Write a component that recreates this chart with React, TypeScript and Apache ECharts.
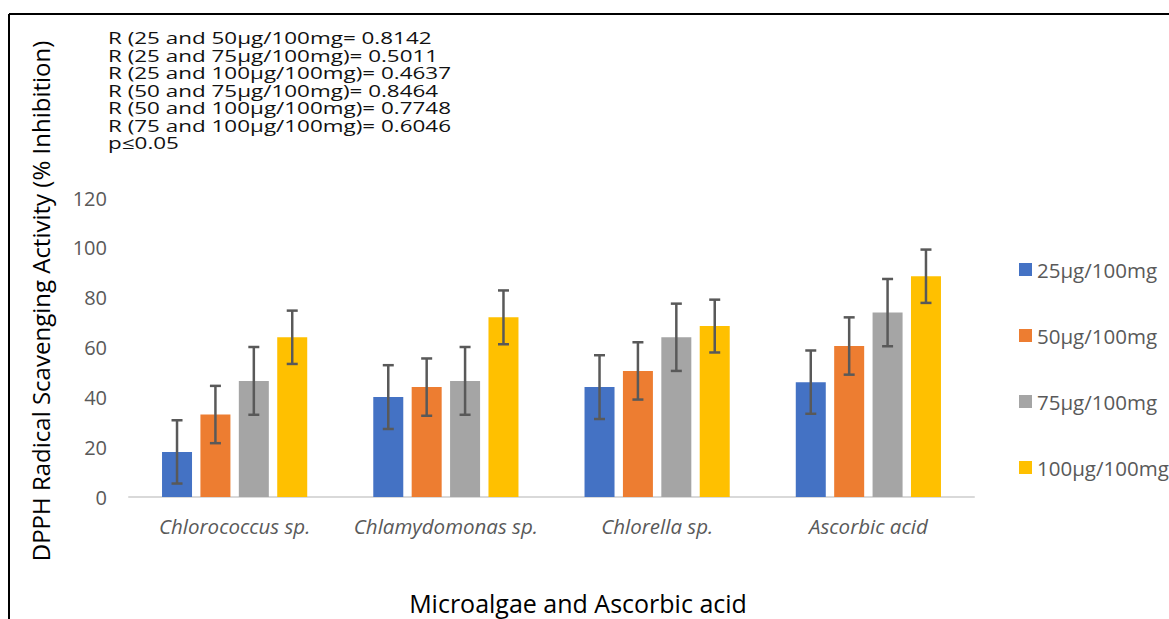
import React, { useEffect, useRef } from "react";
import * as echarts from "echarts";

const categories = ["Chlorococcus sp.", "Chlamydomonas sp.", "Chlorella sp.", "Ascorbic acid"];
const seriesNames = ["25µg/100mg", "50µg/100mg", "75µg/100mg", "100µg/100mg"];
const values25 = [18.1, 40.1, 44.1, 46.1];
const values50 = [33.1, 44.1, 50.6, 60.6];
const values75 = [46.6, 46.6, 64.1, 74.0];
const values100 = [64.1, 72.1, 68.6, 88.6];
const errors25 = [12.7, 12.8, 12.8, 12.7];
const errors50 = [11.5, 11.5, 11.5, 11.5];
const errors75 = [13.6, 13.6, 13.5, 13.5];
const errors100 = [10.7, 10.8, 10.6, 10.7];
const colors = ["#4472C4", "#ED7D31", "#A5A5A5", "#FFC000"];
const annotationLines = [
  "R (25 and 50µg/100mg= 0.8142",
  "R (25 and 75µg/100mg)= 0.5011",
  "R (25 and 100µg/100mg)= 0.4637",
  "R (50 and 75µg/100mg)= 0.8464",
  "R (50 and 100µg/100mg)= 0.7748",
  "R (75 and 100µg/100mg)= 0.6046",
  "p≤0.05",
];
const yAxisTitle = "DPPH Radical Scavenging Activity (% Inhibition)";
const xAxisTitle = "Microalgae and Ascorbic acid";

const FONT = "'Open Sans', sans-serif";
const BAR_W = 30;
const BAR_GAP_PX = 8.4;

export default function App() {
  const ref = useRef<HTMLDivElement>(null);
  useEffect(() => {
    if (!ref.current) return;
    const chart = echarts.init(ref.current, null, { renderer: "svg" });
    const valueSets = [values25, values50, values75, values100];
    const errorSets = [errors25, errors50, errors75, errors100];
    const barSeries = valueSets.map((vals, i) => ({
      name: seriesNames[i],
      type: "bar",
      data: vals,
      barWidth: BAR_W,
      barGap: (BAR_GAP_PX / BAR_W) * 100 + "%",
      itemStyle: { color: colors[i] },
      z: 2,
    }));
    const errSeries = valueSets.map((vals, i) => {
      const offset = -((4 * BAR_W + 3 * BAR_GAP_PX) / 2) + BAR_W / 2 + i * (BAR_W + BAR_GAP_PX);
      return {
        name: "err" + i,
        type: "custom",
        z: 5,
        encode: { x: 0, y: 1 },
        data: vals.map((v, j) => [j, v, errorSets[i][j]]),
        renderItem: (params: any, api: any) => {
          const x = api.value(0);
          const v = api.value(1);
          const e = api.value(2);
          const top = api.coord([x, v + e]);
          const bot = api.coord([x, v - e]);
          const cx = top[0] + offset;
          const st = { stroke: "#595959", lineWidth: 2.5 };
          const cap = 5.5;
          return {
            type: "group",
            children: [
              { type: "line", shape: { x1: cx, y1: top[1], x2: cx, y2: bot[1] }, style: st },
              { type: "line", shape: { x1: cx - cap, y1: top[1], x2: cx + cap, y2: top[1] }, style: st },
              { type: "line", shape: { x1: cx - cap, y1: bot[1], x2: cx + cap, y2: bot[1] }, style: st },
            ],
          };
        },
      };
    });
    chart.setOption({
      animation: false,
      backgroundColor: "#ffffff",
      textStyle: { fontFamily: FONT },
      grid: { left: 129, right: 195, top: 198, bottom: 122, containLabel: false },
      legend: {
        data: seriesNames,
        orient: "vertical",
        left: 1014,
        top: 254,
        padding: 5,
        itemWidth: 13,
        itemHeight: 13,
        itemGap: 45,
        icon: "rect",
        textStyle: { fontSize: 20.5, color: "#595959", fontFamily: FONT },
      },
      xAxis: {
        type: "category",
        data: categories,
        axisLine: { lineStyle: { color: "#D9D9D9", width: 2 } },
        axisTick: { show: false },
        axisLabel: {
          interval: 0,
          hideOverlap: false,
          fontSize: 20.5,
          fontStyle: "italic",
          color: "#595959",
          margin: 19,
          fontFamily: FONT,
        },
      },
      yAxis: {
        type: "value",
        min: 0,
        max: 120,
        interval: 20,
        axisLine: { show: false },
        axisTick: { show: false },
        splitLine: { show: false },
        axisLabel: { fontSize: 20, color: "#595959", margin: 22, fontFamily: FONT },
      },
      graphic: [
        { type: "line", shape: { x1: 9, y1: 14, x2: 9, y2: 619 }, style: { stroke: "#000", lineWidth: 2 } },
        { type: "line", shape: { x1: 9, y1: 14, x2: 1169, y2: 14 }, style: { stroke: "#000", lineWidth: 2 } },
        {
          type: "text",
          x: 40,
          y: 301,
          rotation: Math.PI / 2,
          style: {
            text: yAxisTitle,
            align: "center",
            verticalAlign: "middle",
            fontSize: 24,
            fill: "#000",
            fontFamily: FONT,
          },
        },
        {
          type: "text",
          x: 578,
          y: 603,
          style: {
            text: xAxisTitle,
            align: "center",
            verticalAlign: "middle",
            fontSize: 25,
            fill: "#000",
            fontFamily: FONT,
          },
        },
        {
          type: "text",
          x: 108,
          y: 29,
          scaleX: 1.36,
          style: {
            text: annotationLines.join("\n"),
            align: "left",
            verticalAlign: "top",
            fontSize: 16.5,
            lineHeight: 17.5,
            fill: "#111",
            fontFamily: FONT,
          },
        },
      ],
      series: [...barSeries, ...errSeries],
    });
    return () => chart.dispose();
  }, []);
  return (
    <div
      ref={ref}
      style={{ position: "absolute", left: 0, top: 0, width: 1169, height: 619 }}
    />
  );
}
